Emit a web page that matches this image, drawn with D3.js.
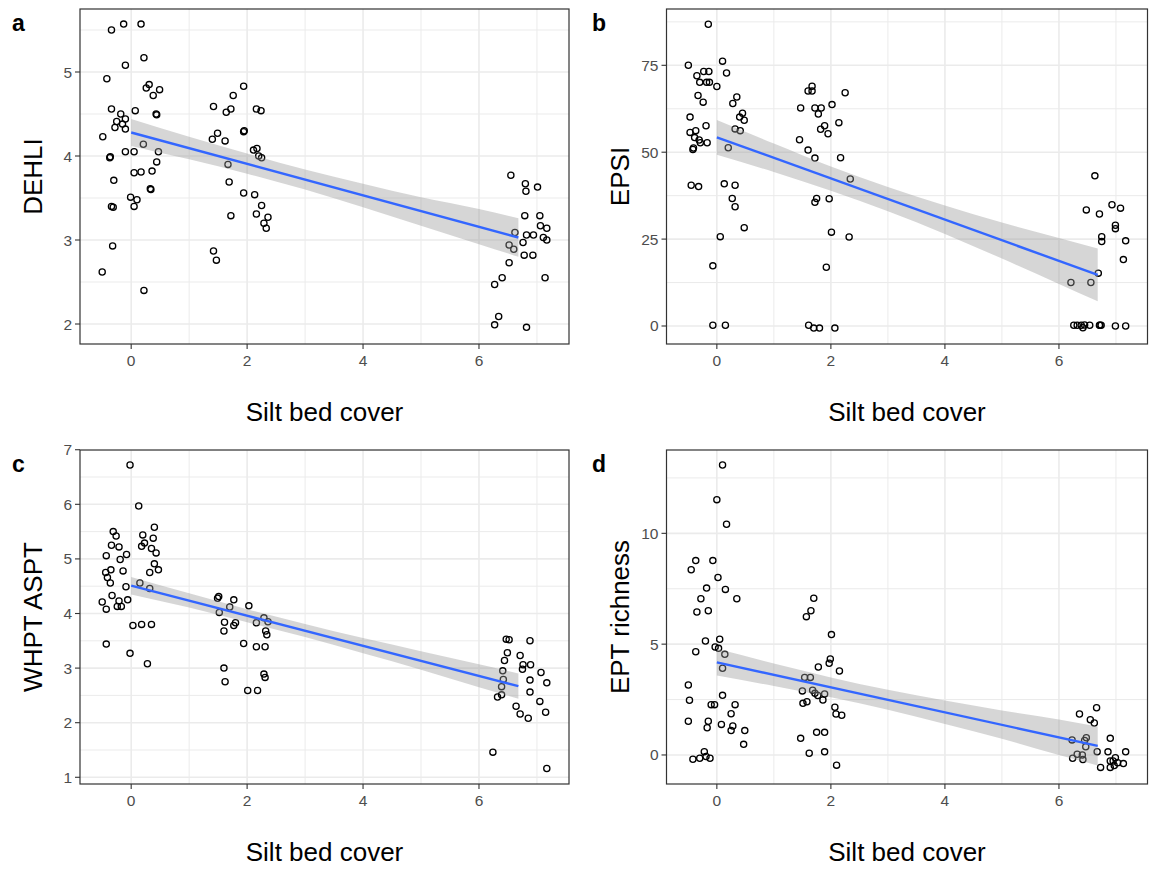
<!DOCTYPE html>
<html><head><meta charset="utf-8">
<script src="https://cdn.jsdelivr.net/npm/d3@7"></script>
<style>
body{margin:0;background:#fff}
svg{display:block}
text{font-family:"Liberation Sans", Arial, sans-serif}
</style>
</head><body>
<svg id="chart" width="1152" height="870"></svg>
<script>
// ---------------- data ----------------
const xTitle = "Silt bed cover";
const panelLetters = ["a", "b", "c", "d"];
const yTitles = ["DEHLI", "EPSI", "WHPT ASPT", "EPT richness"];
const xTicks = [0, 2, 4, 6];
const xMinorTicks = [1, 3, 5, 7];
const yTicksA = [2, 3, 4, 5];
const yTicksB = [0, 25, 50, 75];
const yTicksC = [1, 2, 3, 4, 5, 6, 7];
const yTicksD = [0, 5, 10];
const yMinorA = [2.5, 3.5, 4.5, 5.5];
const yMinorB = [12.5, 37.5, 62.5, 87.5];
const yMinorC = [1.5, 2.5, 3.5, 4.5, 5.5, 6.5];
const yMinorD = [2.5, 7.5, 12.5];

// jittered points [silt bed cover, index value]
const dehliPoints = [
 [-0.34,5.50],[-0.13,5.57],[0.17,5.57],[0.22,5.17],[-0.10,5.08],[-0.42,4.92],[0.31,4.85],[0.26,4.81],[0.49,4.79],[0.38,4.72],
 [-0.34,4.56],[0.07,4.54],[-0.18,4.50],[0.43,4.50],[0.44,4.49],[-0.25,4.41],[-0.10,4.44],[-0.15,4.38],[-0.28,4.34],[-0.10,4.32],
 [-0.49,4.23],[0.21,4.14],[-0.37,3.98],[-0.36,3.99],[-0.10,4.05],[0.05,4.05],[0.47,4.05],[0.44,3.93],[0.17,3.81],[0.05,3.80],
 [0.36,3.82],[-0.30,3.71],[0.33,3.61],[0.34,3.60],[-0.01,3.51],[0.10,3.48],[0.05,3.40],[-0.34,3.40],[-0.31,3.39],[-0.32,2.93],
 [-0.50,2.62],[0.22,2.40],
 [1.94,4.83],[1.76,4.72],[1.42,4.59],[1.64,4.52],[1.72,4.56],[2.16,4.56],[2.24,4.54],[1.94,4.29],[1.95,4.30],[1.49,4.27],
 [1.40,4.20],[1.62,4.18],[2.11,4.07],[2.17,4.09],[2.20,4.00],[2.25,3.98],[1.67,3.90],[1.69,3.69],[1.94,3.56],[2.13,3.54],
 [2.25,3.41],[1.72,3.29],[2.16,3.31],[2.36,3.27],[2.29,3.20],[2.33,3.14],[1.42,2.87],[1.47,2.76],
 [6.55,3.77],[6.80,3.67],[6.81,3.58],[7.01,3.63],[6.79,3.29],[7.05,3.29],[7.06,3.17],[7.17,3.14],[6.62,3.09],[6.82,3.06],
 [6.94,3.06],[6.76,2.97],[7.11,3.03],[7.17,3.00],[6.52,2.94],[6.60,2.89],[6.78,2.82],[6.93,2.82],[6.52,2.73],[6.40,2.55],
 [6.27,2.47],[7.14,2.55],[6.34,2.09],[6.27,1.99],[6.82,1.96]
];
const epsiPoints = [
 [-0.15,86.8],[-0.50,75.0],[0.10,76.2],[0.17,72.8],[-0.35,72.0],[-0.23,73.2],[-0.14,73.2],[-0.30,70.1],[-0.18,70.1],[-0.13,70.1],
 [0.00,68.9],[-0.33,66.3],[-0.24,64.4],[0.35,65.9],[0.28,64.0],[0.45,61.2],[0.40,60.1],[0.48,59.2],[-0.47,60.1],[-0.19,57.6],
 [-0.37,56.2],[-0.47,55.7],[0.32,56.7],[0.41,56.2],[-0.39,54.2],[-0.31,53.5],[-0.29,52.7],[-0.17,52.7],[-0.42,50.8],[-0.41,51.2],
 [0.20,51.3],[-0.45,40.5],[-0.32,40.1],[0.13,40.9],[0.32,40.5],[0.27,36.7],[0.32,34.3],[0.48,28.3],[0.06,25.7],[-0.07,17.3],
 [-0.07,0.2],[0.15,0.2],
 [1.67,69.0],[1.60,67.6],[1.67,67.6],[2.25,67.1],[1.47,62.7],[1.72,62.7],[1.83,62.7],[1.78,61.0],[2.02,63.7],[2.14,58.5],
 [1.89,57.6],[1.82,56.6],[1.95,55.3],[1.45,53.6],[1.60,50.6],[1.72,48.3],[2.17,48.4],[2.34,42.3],[1.75,36.7],[1.72,35.6],
 [1.97,36.6],[2.01,27.0],[2.32,25.6],[1.92,16.9],[1.61,0.2],[1.70,-0.6],[1.80,-0.6],[2.07,-0.6],
 [6.63,43.2],[6.48,33.4],[6.71,32.2],[6.93,34.9],[7.08,33.9],[6.99,29.0],[6.99,28.0],[6.75,25.7],[6.75,24.3],[7.17,24.5],
 [7.13,19.1],[6.69,15.2],[6.21,12.5],[6.56,12.5],[6.26,0.2],[6.32,0.2],[6.39,0.2],[6.42,-0.5],[6.45,0.3],[6.54,0.2],
 [6.71,0.2],[6.72,0.2],[6.74,0.2],[6.99,0.0],[7.17,0.0]
];
const whptPoints = [
 [-0.02,6.72],[0.13,5.97],[0.40,5.58],[-0.31,5.50],[-0.26,5.42],[0.20,5.44],[0.38,5.38],[0.23,5.29],[0.18,5.23],[-0.34,5.25],
 [-0.21,5.22],[0.35,5.19],[0.43,5.11],[-0.43,5.06],[-0.08,5.08],[-0.19,4.99],[0.40,4.91],[0.47,4.80],[-0.35,4.80],[-0.14,4.78],
 [-0.44,4.75],[0.32,4.75],[-0.41,4.66],[-0.36,4.56],[0.15,4.56],[-0.09,4.49],[0.32,4.46],[-0.33,4.33],[-0.50,4.21],[-0.43,4.08],
 [-0.21,4.23],[-0.24,4.13],[-0.17,4.13],[-0.06,4.25],[0.03,3.78],[0.18,3.80],[0.35,3.80],[-0.43,3.44],[-0.02,3.27],[0.28,3.08],
 [1.51,4.31],[1.49,4.28],[1.77,4.25],[2.03,4.14],[1.52,4.02],[1.70,4.12],[1.61,3.84],[1.60,3.68],[1.77,3.78],[1.80,3.83],
 [2.16,3.83],[2.29,3.92],[2.36,3.85],[2.32,3.68],[2.34,3.61],[1.94,3.45],[2.16,3.39],[2.31,3.39],[1.60,3.00],[1.62,2.75],
 [2.29,2.89],[2.31,2.83],[2.01,2.59],[2.18,2.59],
 [6.47,3.53],[6.52,3.52],[6.88,3.50],[6.49,3.28],[6.71,3.23],[6.44,3.14],[6.76,3.06],[6.89,3.06],[6.75,2.98],[6.41,2.95],
 [7.07,2.92],[6.42,2.79],[6.88,2.78],[7.17,2.73],[6.39,2.66],[6.88,2.56],[6.39,2.51],[6.32,2.47],[7.05,2.39],[6.64,2.30],
 [6.71,2.16],[6.85,2.08],[7.15,2.19],[6.24,1.46],[7.17,1.16]
];
const eptPoints = [
 [0.10,13.08],[0.00,11.52],[0.17,10.41],[-0.37,8.77],[-0.07,8.77],[-0.45,8.36],[0.02,8.01],[-0.18,7.53],[0.15,7.47],[-0.28,7.05],
 [0.35,7.05],[-0.35,6.45],[-0.15,6.51],[-0.20,5.14],[0.05,5.22],[-0.03,4.87],[0.03,4.81],[-0.37,4.66],[0.14,4.54],[0.10,3.91],
 [-0.50,3.16],[-0.48,2.47],[0.10,2.69],[-0.10,2.27],[-0.04,2.27],[0.32,2.27],[0.25,1.86],[-0.50,1.52],[-0.15,1.52],[-0.17,1.23],
 [0.08,1.38],[0.28,1.31],[0.25,1.10],[0.49,1.10],[0.47,0.48],[-0.22,0.15],[-0.42,-0.19],[-0.30,-0.15],[-0.19,-0.07],[-0.12,-0.15],
 [1.70,7.07],[1.65,6.51],[1.57,6.24],[2.01,5.43],[1.99,4.33],[1.97,4.14],[1.78,3.97],[2.15,3.79],[1.54,3.50],[1.64,3.50],
 [1.50,2.89],[1.68,2.92],[1.72,2.78],[1.77,2.68],[1.89,2.75],[1.86,2.48],[1.51,2.33],[1.58,2.40],[2.07,2.15],[2.09,1.85],
 [2.19,1.79],[1.75,1.02],[1.89,1.02],[1.47,0.75],[1.62,0.08],[1.89,0.14],[2.10,-0.46],
 [6.66,2.13],[6.36,1.85],[6.55,1.59],[6.62,1.44],[6.90,0.75],[6.23,0.68],[6.48,0.78],[6.45,0.65],[6.47,0.37],[6.67,0.15],
 [6.86,0.14],[7.17,0.14],[6.32,0.03],[6.41,0.00],[6.24,-0.15],[6.42,-0.21],[6.99,-0.12],[6.90,-0.27],[6.95,-0.27],[7.03,-0.35],
 [7.13,-0.39],[6.73,-0.56],[6.90,-0.56],[6.97,-0.48]
];

// fitted linear trend (end points) and 95% confidence band
const fitX = [0, 6.68];
const dehliFit = [4.28, 3.03];
const epsiFit = [54.3, 14.7];
const whptFit = [4.51, 2.67];
const eptFit = [4.18, 0.41];
const bandX = [0, 1, 2, 3, 4, 5, 6, 6.68];
const dehliLower = [4.12, 3.96, 3.79, 3.60, 3.39, 3.17, 2.95, 2.80];
const dehliUpper = [4.44, 4.23, 4.03, 3.84, 3.67, 3.51, 3.37, 3.26];
const epsiLower = [49.3, 44.3, 38.9, 33.0, 26.5, 19.4, 12.1, 7.1];
const epsiUpper = [59.3, 52.5, 45.9, 40.0, 34.7, 29.8, 25.3, 22.3];
const whptLower = [4.35, 4.11, 3.84, 3.57, 3.27, 2.97, 2.65, 2.44];
const whptUpper = [4.67, 4.37, 4.08, 3.81, 3.55, 3.31, 3.07, 2.90];
const eptLower = [3.58, 3.11, 2.60, 2.04, 1.40, 0.73, 0.00, -0.47];
const eptUpper = [4.79, 4.13, 3.50, 2.94, 2.46, 2.01, 1.60, 1.29];

// ---------------- layout ----------------
const xDomain = [-0.883, 7.553];
const panels = [
  {rect:{l:80, r:569, t:9, b:344}, yDomain:[1.762, 5.75], ticks:yTicksA, minor:yMinorA, pts:dehliPoints, fit:dehliFit, lo:dehliLower, hi:dehliUpper},
  {rect:{l:666.5, r:1147.5, t:9, b:344}, yDomain:[-5.18, 91.2], ticks:yTicksB, minor:yMinorB, pts:epsiPoints, fit:epsiFit, lo:epsiLower, hi:epsiUpper},
  {rect:{l:80, r:569, t:450, b:784}, yDomain:[0.877, 6.995], ticks:yTicksC, minor:yMinorC, pts:whptPoints, fit:whptFit, lo:whptLower, hi:whptUpper},
  {rect:{l:666.5, r:1147.5, t:450, b:784}, yDomain:[-1.31, 13.76], ticks:yTicksD, minor:yMinorD, pts:eptPoints, fit:eptFit, lo:eptLower, hi:eptUpper}
];
const letterPos = [[12, 31], [592, 31], [12, 472], [592, 472]];

const svg = d3.select("#chart");
svg.append("rect").attr("width", 1152).attr("height", 870).attr("fill", "#fff");

panels.forEach((p, i) => {
  const R = p.rect;
  const x = d3.scaleLinear().domain(xDomain).range([R.l, R.r]);
  const y = d3.scaleLinear().domain(p.yDomain).range([R.b, R.t]);
  const g = svg.append("g");
  const clipId = "clip" + i;
  g.append("clipPath").attr("id", clipId).append("rect")
    .attr("x", R.l).attr("y", R.t).attr("width", R.r - R.l).attr("height", R.b - R.t);
  const inner = g.append("g").attr("clip-path", `url(#${clipId})`);

  // grid
  inner.selectAll(".vmin").data(xMinorTicks).join("line")
    .attr("x1", d => x(d)).attr("x2", d => x(d)).attr("y1", R.t).attr("y2", R.b)
    .attr("stroke", "#ebebeb").attr("stroke-width", 1);
  inner.selectAll(".hmin").data(p.minor).join("line")
    .attr("y1", d => y(d)).attr("y2", d => y(d)).attr("x1", R.l).attr("x2", R.r)
    .attr("stroke", "#ebebeb").attr("stroke-width", 1);
  inner.selectAll(".vmaj").data(xTicks).join("line")
    .attr("x1", d => x(d)).attr("x2", d => x(d)).attr("y1", R.t).attr("y2", R.b)
    .attr("stroke", "#ebebeb").attr("stroke-width", 1.6);
  inner.selectAll(".hmaj").data(p.ticks).join("line")
    .attr("y1", d => y(d)).attr("y2", d => y(d)).attr("x1", R.l).attr("x2", R.r)
    .attr("stroke", "#ebebeb").attr("stroke-width", 1.6);

  // points
  inner.selectAll("circle").data(p.pts).join("circle")
    .attr("cx", d => x(d[0])).attr("cy", d => y(d[1])).attr("r", 3.1)
    .attr("fill", "none").attr("stroke", "#000").attr("stroke-width", 1.3);

  // confidence band
  const bandData = bandX.map((bx, k) => ({x: bx, lo: p.lo[k], hi: p.hi[k]}));
  inner.append("path").datum(bandData)
    .attr("d", d3.area().x(d => x(d.x)).y0(d => y(d.lo)).y1(d => y(d.hi)).curve(d3.curveMonotoneX))
    .attr("fill", "#999999").attr("fill-opacity", 0.4);
  // fit line
  const lineData = fitX.map((fx, k) => [fx, p.fit[k]]);
  inner.append("path").datum(lineData)
    .attr("d", d3.line().x(d => x(d[0])).y(d => y(d[1])))
    .attr("fill", "none").attr("stroke", "#3366FF").attr("stroke-width", 2.4);

  // border
  g.append("rect").attr("x", R.l).attr("y", R.t).attr("width", R.r - R.l).attr("height", R.b - R.t)
    .attr("fill", "none").attr("stroke", "#333333").attr("stroke-width", 1.2);

  // axes ticks
  g.selectAll(".xt").data(xTicks).join("line")
    .attr("x1", d => x(d)).attr("x2", d => x(d)).attr("y1", R.b).attr("y2", R.b + 5)
    .attr("stroke", "#333333").attr("stroke-width", 1.1);
  g.selectAll(".xl").data(xTicks).join("text")
    .attr("x", d => x(d)).attr("y", R.b + 22).attr("text-anchor", "middle")
    .attr("font-size", 15.5).attr("fill", "#4d4d4d").text(d => d);
  g.selectAll(".yt").data(p.ticks).join("line")
    .attr("x1", R.l - 5).attr("x2", R.l).attr("y1", d => y(d)).attr("y2", d => y(d))
    .attr("stroke", "#333333").attr("stroke-width", 1.1);
  g.selectAll(".yl").data(p.ticks).join("text")
    .attr("x", R.l - 8).attr("y", d => y(d) + 5.5).attr("text-anchor", "end")
    .attr("font-size", 15.5).attr("fill", "#4d4d4d").text(d => d);

  // titles
  g.append("text").attr("x", (R.l + R.r) / 2).attr("y", R.b + 77).attr("text-anchor", "middle")
    .attr("font-size", 26).attr("fill", "#000").text(xTitle);
  const yc = (R.t + R.b) / 2;
  g.append("text").attr("transform", `translate(${R.l - 38},${yc}) rotate(-90)`)
    .attr("text-anchor", "middle").attr("font-size", 26).attr("fill", "#000").text(yTitles[i]);

  g.append("text").attr("x", letterPos[i][0]).attr("y", letterPos[i][1])
    .attr("font-size", 23).attr("font-weight", "bold").attr("fill", "#000").text(panelLetters[i]);
});
</script>
</body></html>
